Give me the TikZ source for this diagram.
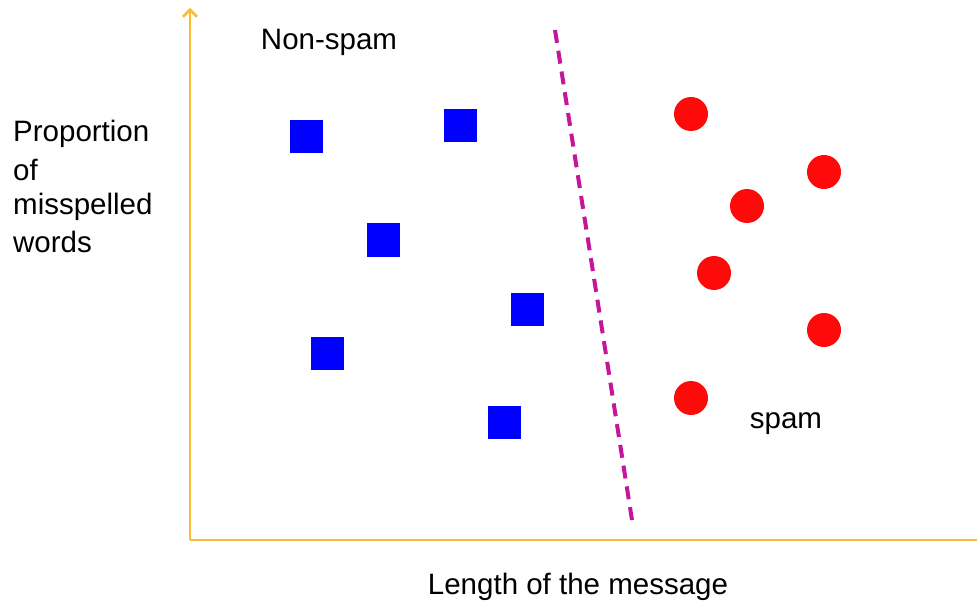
\documentclass[tikz,border=0pt]{standalone}
\usepackage{fontspec}
\setmainfont{Liberation Sans}
\usetikzlibrary{arrows.meta}
\definecolor{axisorange}{HTML}{FBBC33}
\definecolor{sepmag}{HTML}{C4159B}
\definecolor{sqblue}{HTML}{0000FF}
\definecolor{dotred}{HTML}{FF0A0A}
\tikzset{
  axisline/.style={draw=axisorange, line width=2.5pt},
  sq/.style={rectangle, fill=sqblue, minimum size=33pt, inner sep=0pt},
  dot/.style={circle, fill=dotred, minimum size=34pt, inner sep=0pt},
  lbl/.style={font=\fontsize{29.5}{36}\selectfont, inner sep=0pt},
  sep/.style={draw=sepmag, line width=4pt, dash pattern=on 13pt off 8pt}
}
\begin{document}
\begin{tikzpicture}[x=1pt,y=-1pt]
\useasboundingbox (0,0) rectangle (977,604);
\coordinate (origin) at (190,540);
\coordinate (ytop) at (190,8);
\coordinate (xend) at (977,540);
\draw[axisline, -{Straight Barb[length=7pt,width=14pt]}] (origin) -- (ytop);
\draw[axisline] (origin) -- (xend);
\coordinate (s1) at (555,30);
\coordinate (s2) at (632,520);
\draw[sep] (s1) -- (s2);
\node[sq] (q1) at (306,137) {};
\node[sq] (q2) at (460,126) {};
\node[sq] (q3) at (383,240) {};
\node[sq] (q4) at (527,309) {};
\node[sq] (q5) at (327,353) {};
\node[sq] (q6) at (504,422) {};
\node[dot] (c1) at (691,114) {};
\node[dot] (c2) at (824,172) {};
\node[dot] (c3) at (747,206) {};
\node[dot] (c4) at (714,273) {};
\node[dot] (c5) at (824,330) {};
\node[dot] (c6) at (691,398) {};
\node[lbl] (nonspam) at (329,42) {Non-spam};
\node[lbl] (spam) at (786,424) {spam};
\node[lbl] (xlab) at (578,587) {Length of the message};
\node[lbl, anchor=west] (y1) at (13,134) {Proportion};
\node[lbl, anchor=west] (y2) at (13,170) {of};
\node[lbl, anchor=west] (y3) at (13,207) {misspelled};
\node[lbl, anchor=west] (y4) at (13,242) {words};
\end{tikzpicture}
\end{document}
